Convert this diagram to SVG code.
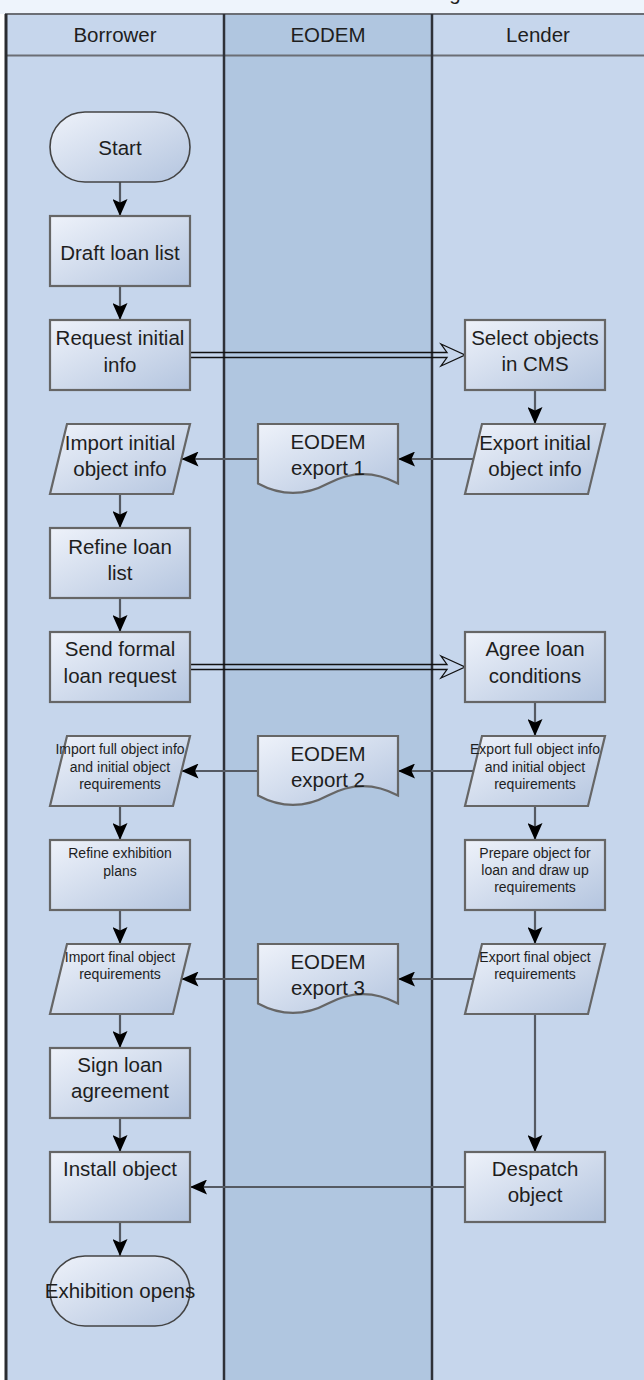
<svg xmlns="http://www.w3.org/2000/svg" width="644" height="1380" viewBox="0 0 644 1380">
<style>
text{font-family:"Liberation Sans",Arial,sans-serif;fill:#1e1e1e;text-anchor:middle}
.big{font-size:20.5px}
.sm{font-size:14px}
.lane{fill:#c6d6ec}
.mid{fill:#b0c6e0}
.div{stroke:#2e3138;stroke-width:2.5}
.hl{stroke:#6b6e75;stroke-width:2}
.n{fill:url(#g);stroke:#666;stroke-width:2.2}
.t{fill:url(#g);stroke:#444;stroke-width:1.6}
.c{fill:none;stroke:#555a63;stroke-width:2.2;marker-end:url(#a)}
.d{fill:none;stroke:#111;stroke-width:1.3}
</style>
<defs>
<linearGradient id="g" x1="0" y1="0" x2="1" y2="1">
<stop offset="0" stop-color="#eef2fa"/>
<stop offset="1" stop-color="#b4c5df"/>
</linearGradient>
<marker id="a" markerUnits="userSpaceOnUse" markerWidth="17" markerHeight="15" refX="17" refY="7.5" orient="auto">
<path d="M0,0 L17,7.5 L0,15 L3.5,7.5 Z" fill="#000"/>
</marker>
</defs>

<g id="pool">
<rect x="0" y="0" width="644" height="14" fill="#eef4fc"/>
<text class="big" x="455" y="0">g</text>
<rect class="lane" x="5" y="14" width="219" height="1366"/>
<rect class="mid" x="224" y="14" width="208" height="1366"/>
<rect class="lane" x="432" y="14" width="212" height="1366"/>
<line class="hl" x1="5" y1="14" x2="644" y2="14"/>
<line class="hl" x1="5" y1="55.5" x2="644" y2="55.5"/>
<line x1="6" y1="14" x2="6" y2="1380" stroke="#2a2c30" stroke-width="3"/>
<line class="div" x1="224" y1="14" x2="224" y2="1380"/>
<line class="div" x1="432" y1="14" x2="432" y2="1380"/>
<text class="big" x="115" y="42">Borrower</text>
<text class="big" x="328" y="42">EODEM</text>
<text class="big" x="538" y="42">Lender</text>
</g>

<g id="connectors">
<line class="c" x1="120" y1="182" x2="120" y2="216"/>
<line class="c" x1="120" y1="286" x2="120" y2="320"/>
<line class="c" x1="120" y1="494" x2="120" y2="528"/>
<line class="c" x1="120" y1="598" x2="120" y2="632"/>
<line class="c" x1="120" y1="806" x2="120" y2="840"/>
<line class="c" x1="120" y1="910" x2="120" y2="944"/>
<line class="c" x1="120" y1="1014" x2="120" y2="1048"/>
<line class="c" x1="120" y1="1118" x2="120" y2="1152"/>
<line class="c" x1="120" y1="1222" x2="120" y2="1256"/>
<line class="c" x1="535" y1="390" x2="535" y2="424"/>
<line class="c" x1="535" y1="702" x2="535" y2="736"/>
<line class="c" x1="535" y1="806" x2="535" y2="840"/>
<line class="c" x1="535" y1="910" x2="535" y2="944"/>
<line class="c" x1="535" y1="1014" x2="535" y2="1152"/>
<line class="c" x1="473.5" y1="459" x2="398" y2="459"/>
<line class="c" x1="258" y1="459" x2="181.5" y2="459"/>
<line class="c" x1="473.5" y1="771" x2="398" y2="771"/>
<line class="c" x1="258" y1="771" x2="181.5" y2="771"/>
<line class="c" x1="473.5" y1="979" x2="398" y2="979"/>
<line class="c" x1="258" y1="979" x2="181.5" y2="979"/>
<line class="c" x1="465" y1="1187" x2="190" y2="1187"/>
<path class="d" d="M190,352.5 L447,352.5 L441,344 L465,355 L441,366 L447,357.5 L190,357.5"/>
<path class="d" d="M190,664.5 L447,664.5 L441,656 L465,667 L441,678 L447,669.5 L190,669.5"/>
</g>

<g id="start"><rect class="t" x="50" y="112" width="140" height="70" rx="35"/><text class="big" x="120" y="155">Start</text></g>
<g id="draft"><rect class="n" x="50" y="216" width="140" height="70"/><text class="big" x="120" y="260">Draft loan list</text></g>
<g id="request"><rect class="n" x="50" y="320" width="140" height="70"/><text class="big" x="120" y="345">Request initial</text><text class="big" x="120" y="372">info</text></g>
<g id="select"><rect class="n" x="465" y="320" width="140" height="70"/><text class="big" x="535" y="345">Select objects</text><text class="big" x="535" y="371">in CMS</text></g>
<g id="exportInitial"><path class="n" d="M482,424 L605,424 L588,494 L465,494 Z"/><text class="big" x="535" y="450">Export initial</text><text class="big" x="535" y="476">object info</text></g>
<g id="doc1"><path class="n" d="M258,424 L398,424 L398,483.5 Q363,464.6 328,483.5 Q293,502.4 258,483.5 Z"/><text class="big" x="328" y="449">EODEM</text><text class="big" x="328" y="475">export 1</text></g>
<g id="importInitial"><path class="n" d="M67,424 L190,424 L173,494 L50,494 Z"/><text class="big" x="120" y="450">Import initial</text><text class="big" x="120" y="476">object info</text></g>
<g id="refineList"><rect class="n" x="50" y="528" width="140" height="70"/><text class="big" x="120" y="554">Refine loan</text><text class="big" x="120" y="580">list</text></g>
<g id="sendFormal"><rect class="n" x="50" y="632" width="140" height="70"/><text class="big" x="120" y="656">Send formal</text><text class="big" x="120" y="683">loan request</text></g>
<g id="agree"><rect class="n" x="465" y="632" width="140" height="70"/><text class="big" x="535" y="656">Agree loan</text><text class="big" x="535" y="683">conditions</text></g>
<g id="exportFull"><path class="n" d="M482,736 L605,736 L588,806 L465,806 Z"/><text class="sm" x="535" y="754">Export full object info</text><text class="sm" x="535" y="772">and initial object</text><text class="sm" x="535" y="789">requirements</text></g>
<g id="doc2"><path class="n" d="M258,736 L398,736 L398,795.5 Q363,776.6 328,795.5 Q293,814.4 258,795.5 Z"/><text class="big" x="328" y="761">EODEM</text><text class="big" x="328" y="787">export 2</text></g>
<g id="importFull"><path class="n" d="M67,736 L190,736 L173,806 L50,806 Z"/><text class="sm" x="120" y="754">Import full object info</text><text class="sm" x="120" y="772">and initial object</text><text class="sm" x="120" y="789">requirements</text></g>
<g id="refinePlans"><rect class="n" x="50" y="840" width="140" height="70"/><text class="sm" x="120" y="858">Refine exhibition</text><text class="sm" x="120" y="876">plans</text></g>
<g id="prepare"><rect class="n" x="465" y="840" width="140" height="70"/><text class="sm" x="535" y="858">Prepare object for</text><text class="sm" x="535" y="875">loan and draw up</text><text class="sm" x="535" y="892">requirements</text></g>
<g id="exportFinal"><path class="n" d="M482,944 L605,944 L588,1014 L465,1014 Z"/><text class="sm" x="535" y="962">Export final object</text><text class="sm" x="535" y="979">requirements</text></g>
<g id="doc3"><path class="n" d="M258,944 L398,944 L398,1003.5 Q363,984.6 328,1003.5 Q293,1022.4 258,1003.5 Z"/><text class="big" x="328" y="969">EODEM</text><text class="big" x="328" y="995">export 3</text></g>
<g id="importFinal"><path class="n" d="M67,944 L190,944 L173,1014 L50,1014 Z"/><text class="sm" x="120" y="962">Import final object</text><text class="sm" x="120" y="979">requirements</text></g>
<g id="sign"><rect class="n" x="50" y="1048" width="140" height="70"/><text class="big" x="120" y="1072">Sign loan</text><text class="big" x="120" y="1098">agreement</text></g>
<g id="install"><rect class="n" x="50" y="1152" width="140" height="70"/><text class="big" x="120" y="1176">Install object</text></g>
<g id="despatch"><rect class="n" x="465" y="1152" width="140" height="70"/><text class="big" x="535" y="1176">Despatch</text><text class="big" x="535" y="1202">object</text></g>
<g id="opens"><rect class="t" x="50" y="1256" width="140" height="70" rx="35"/><text class="big" x="120" y="1298">Exhibition opens</text></g>
</svg>
